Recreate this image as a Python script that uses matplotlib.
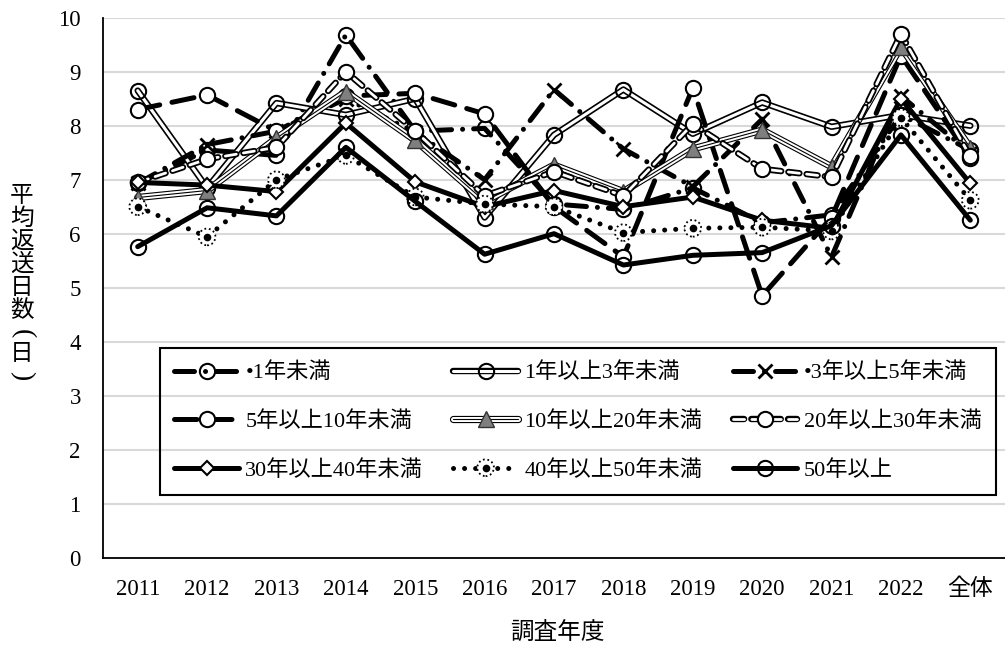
import matplotlib
matplotlib.use('Agg')
import matplotlib.pyplot as plt
import matplotlib.patheffects as pe
from matplotlib.legend_handler import HandlerTuple

plt.rcParams['font.family'] = ['Liberation Serif', 'Noto Sans CJK JP']

years = ['2011', '2012', '2013', '2014', '2015', '2016', '2017', '2018',
         '2019', '2020', '2021', '2022', '全体']

# 平均返送日数（日）by 勤続年数
y_lt1 = [6.93, 7.55, 7.45, 9.68, 7.90, 7.95, 6.55, 6.45, 6.85, 6.20, 6.35, 8.20, 7.55]
y_1_3 = [8.65, 6.85, 8.42, 8.20, 8.50, 6.30, 7.83, 8.67, 7.85, 8.43, 7.98, 8.20, 8.00]
y_3_5 = [6.93, 7.65, 7.90, 8.50, 7.88, 7.00, 8.67, 7.57, 6.87, 8.12, 5.57, 8.55, 7.50]
y_5_10 = [8.30, 8.57, 7.90, 8.55, 8.60, 8.22, 6.50, 5.57, 8.70, 4.85, 6.30, 9.30, 7.40]
y_10_20 = [6.67, 6.80, 7.77, 8.63, 7.73, 6.60, 7.27, 6.78, 7.57, 7.92, 7.24, 9.46, 7.59]
y_20_30 = [6.95, 7.38, 7.60, 9.00, 7.90, 6.70, 7.15, 6.70, 8.03, 7.20, 7.05, 9.70, 7.43]
y_30_40 = [6.95, 6.90, 6.78, 8.05, 6.96, 6.50, 6.80, 6.50, 6.68, 6.25, 6.10, 8.50, 6.93]
y_40_50 = [6.50, 5.94, 7.00, 7.45, 6.68, 6.55, 6.50, 6.02, 6.10, 6.12, 6.05, 8.15, 6.62]
y_50up = [5.76, 6.48, 6.33, 7.60, 6.60, 5.62, 6.00, 5.42, 5.60, 5.65, 6.15, 7.83, 6.25]

labels = ['•1年未満', '1年以上3年未満', '•3年以上5年未満',
          '5年以上10年未満', '10年以上20年未満', '20年以上30年未満',
          '30年以上40年未満', '40年以上50年未満', '50年以上']

fig = plt.figure(figsize=(10.05, 6.49), dpi=100)
ax = fig.add_axes([0.1025, 0.1407, 0.8975, 0.832])
x = list(range(len(years)))

TH = 3.6  # thick line width
z = [2]


def series(vals, ls, lw, color='black', fx=None, marker='o', ms=11,
           mfc='none', mec='black', mew=1.5):
    z[0] += 1
    ln, = ax.plot(x, vals, ls=ls, lw=lw, color=color, path_effects=fx,
                  dash_capstyle='round', solid_capstyle='round',
                  solid_joinstyle='round', zorder=z[0])
    mk, = ax.plot(x, vals, ls='none', marker=marker, ms=ms, mfc=mfc,
                  mec=mec, mew=mew, zorder=z[0] + 0.5)
    return ln, mk


double = [pe.Stroke(linewidth=4.6, foreground='black'), pe.Normal()]
triple = [pe.Stroke(linewidth=5.2, foreground='black'),
          pe.Stroke(linewidth=3.6, foreground='white'), pe.Normal()]

h = []
h.append(series(y_lt1, (0, (4, 2.2, 0.01, 2.2)), TH, mfc='none'))
h.append(series(y_1_3, '-', 2.2, color='white', fx=double, mfc='none'))
h.append(series(y_3_5, (0, (4, 2.2, 0.01, 2.2)), TH, marker='x', ms=10, mew=2))
h.append(series(y_5_10, (0, (4.5, 2.5)), TH, mfc='white'))
h.append(series(y_10_20, '-', 0.8, fx=triple, marker='^', ms=11,
                mfc='#7f7f7f', mec='#333333', mew=1))
h.append(series(y_20_30, (0, (4, 2.6)), 2.0, color='white', fx=double, mfc='white'))
h.append(series(y_30_40, '-', TH, marker='D', ms=7, mfc='white'))

# 40-50: round dots, ring marker drawn dotted with a dot in the middle
z[0] += 1
ln, = ax.plot(x, y_40_50, ls=(0, (0.01, 2.2)), lw=TH, color='black',
              dash_capstyle='round', zorder=z[0])
ring = ax.scatter(x, y_40_50, s=12 ** 2, facecolors='white', edgecolors='black',
                  linewidths=1.3, linestyles=(0, (1, 1.5)), zorder=z[0] + 0.5)
dot, = ax.plot(x, y_40_50, ls='none', marker='o', ms=4.5, color='black',
               zorder=z[0] + 0.6)
h.append((ln, ring, dot))

h.append(series(y_50up, '-', TH, mfc='none'))

ax.set_xlim(-0.5, len(years) - 0.5)
ax.set_ylim(0, 10)
ax.set_yticks(range(0, 11))
ax.set_xticks(x)
ax.set_xticklabels(years)
ax.tick_params(axis='both', length=0, labelsize=16.5)
ax.tick_params(axis='y', pad=16)
ax.tick_params(axis='x', pad=15)
ax.grid(axis='y', color='#d9d9d9', lw=1.5, zorder=0)
ax.set_axisbelow(True)
for s in ['top', 'right']:
    ax.spines[s].set_visible(False)
for s in ['left', 'bottom']:
    ax.spines[s].set_linewidth(1.3)
    ax.spines[s].set_zorder(1)

# legend rows as drawn: column-major order for ncol=3
order = [0, 3, 6, 1, 4, 7, 2, 5, 8]
leg = ax.legend([h[i] for i in order], [labels[i] for i in order],
                handler_map={tuple: HandlerTuple(ndivide=1)},
                ncol=3, loc='upper left', mode='expand', borderaxespad=0,
                bbox_to_anchor=(0.063, 0.388 - 0.272, 0.927, 0.272),
                fontsize=16, handlelength=2.9, handletextpad=0.3,
                labelspacing=1.25, borderpad=0.65, scatteryoffsets=[0.5],
                fancybox=False, edgecolor='black', facecolor='none',
                framealpha=1)
leg.get_frame().set_linewidth(1.5)
leg.set_zorder(20)

fig.text(557 / 1005, 1 - 633 / 649, '調査年度', ha='center', va='center',
         fontsize=17)

# vertical y-axis title, one character per row; brackets turned sideways
ylab = ['平', '均', '返', '送', '日', '数', '(', '日', ')']
ypix = [196, 219, 242, 265, 288, 311, 334, 355, 376]
for ch, yp in zip(ylab, ypix):
    rot = -90 if ch in '()' else 0
    fig.text(22 / 1005, 1 - yp / 649, ch, ha='center', va='center',
             fontsize=20 if rot else 17, rotation=rot)

fig.savefig('out.png', dpi=100)
